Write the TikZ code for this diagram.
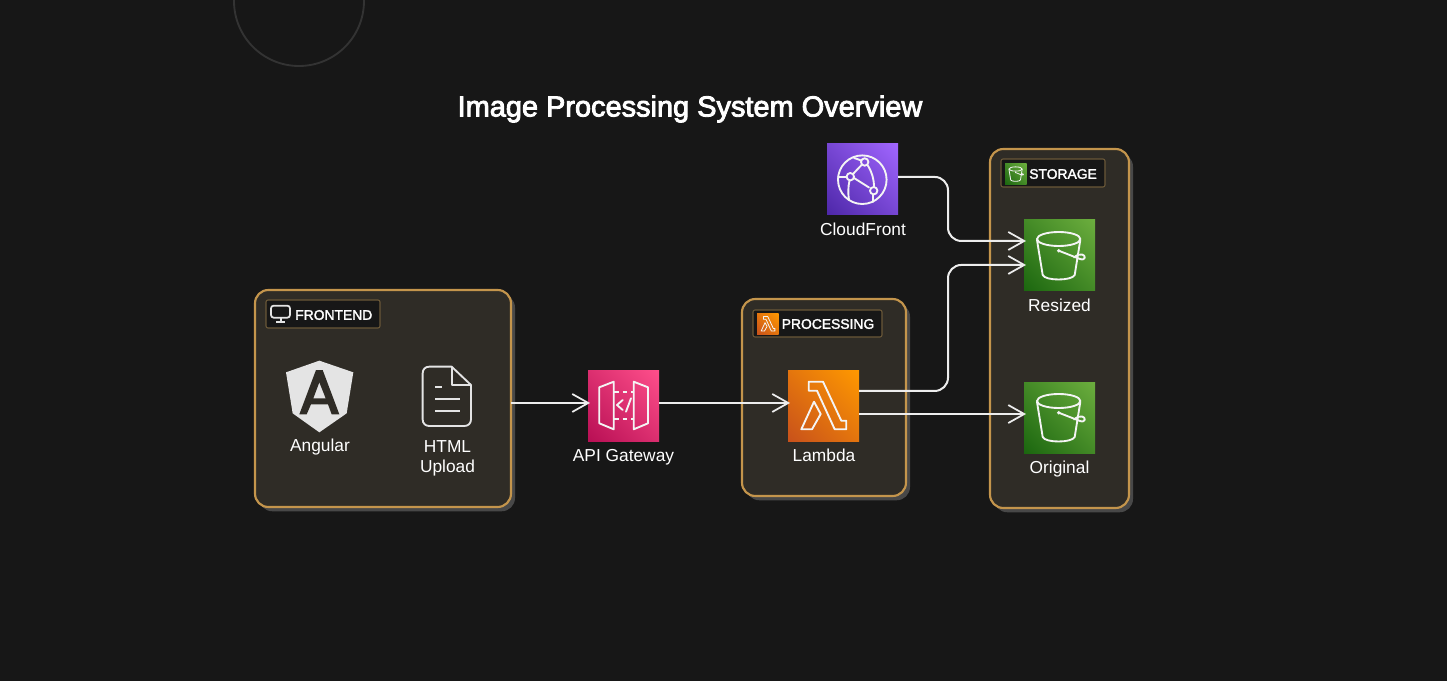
\documentclass[tikz,border=0pt]{standalone}
\usepackage{fontspec}
\usetikzlibrary{arrows.meta,shadows,shadings}
\setmainfont{Liberation Sans}
\newfontfamily\boldishfont[FakeBold=2]{Liberation Sans}
\newfontfamily\titlefont[FakeBold=3]{Liberation Sans}
\definecolor{bgc}{HTML}{171717}
\definecolor{panelc}{HTML}{2F2C26}
\definecolor{borderc}{HTML}{C4954C}
\definecolor{tagborder}{HTML}{6A5838}
\definecolor{shadowc}{HTML}{484848}
\definecolor{ringc}{HTML}{333333}
\definecolor{linec}{HTML}{EDEDED}
\definecolor{iconw}{HTML}{F4F4F4}
\definecolor{greyicon}{HTML}{E4E4E4}
\tikzset{
  x=0.75pt,y=-0.75pt,
  panel/.style={draw=borderc,line width=1.6pt,fill=panelc,rounded corners=10pt,inner sep=0pt,outer sep=0pt,
    general shadow={fill=shadowc,shadow xshift=3pt,shadow yshift=-3.2pt}},
  tag/.style={draw=tagborder,line width=0.8pt,fill=bgc,rounded corners=1.5pt,inner sep=0pt,outer sep=0pt},
  tagtext/.style={text=white,font=\boldishfont\fontsize{10.4pt}{12pt}\selectfont,inner sep=0pt,anchor=west},
  svc/.style={minimum size=53.25pt,inner sep=0pt,outer sep=0pt},
  apic/.style={lower left=apid,upper right=apib,upper left=apim,lower right=apim},
  lamc/.style={lower left=lamd,upper right=lamb,upper left=lamm,lower right=lamm},
  s3c/.style={lower left=s3d,upper right=s3b,upper left=s3m,lower right=s3m},
  cfc/.style={lower left=cfd,upper right=cfb,upper left=cfm,lower right=cfm},
  lab/.style={text=white,font=\fontsize{13pt}{15pt}\selectfont,inner sep=0pt,align=center,anchor=base},
  conn/.style={draw=linec,line width=1.5pt,shorten >=-1.5pt,-{Straight Barb[length=12pt,width=13.5pt,line width=1.3pt]}},
  ic/.style={draw=iconw,line width=#1,line join=round,line cap=round},
  ic/.default=1.4pt,
}
\definecolor{apid}{HTML}{B80F54}\definecolor{apib}{HTML}{FF4F8B}\colorlet{apim}{apid!50!apib}
\definecolor{lamd}{HTML}{C8511B}\definecolor{lamb}{HTML}{FF9900}\colorlet{lamm}{lamd!50!lamb}
\definecolor{s3d}{HTML}{1B660F}\definecolor{s3b}{HTML}{6CAE3E}\colorlet{s3m}{s3d!50!s3b}
\definecolor{cfd}{HTML}{4D27A8}\definecolor{cfb}{HTML}{A166FF}\colorlet{cfm}{cfd!50!cfb}
% icons in a 71 x 71 local box
\newcommand{\bucketglyph}[1]{%
  \draw[ic=#1] (34.7,19) ellipse [x radius=21.7,y radius=7];
  \draw[ic=#1] (13,20) -- (18.7,55) .. controls (21,61) and (48,61) .. (50.7,55) -- (56.3,20);
  \draw[ic=#1] (34.7,30.7) -- (56,39) .. controls (62,41) and (62,35) .. (58,34.5) .. controls (55,34) and (53,35) .. (50,37.5);
  \fill[iconw] (34.7,30.7) circle (1.9);
}
\newcommand{\lambdaglyph}[1]{%
  \draw[ic=#1] (20.7,11.7) -- (35,11.7) -- (53.3,50.7) -- (58.3,50.7) -- (58.3,59.3) -- (46.7,59.3) -- (29,20.7) -- (20.7,20.7) -- cycle;
  \draw[ic=#1] (26,31.7) -- (13.3,59.3) -- (24,59.3) -- (32.7,44) -- cycle;
}
\begin{document}
\begin{tikzpicture}
\useasboundingbox (0,0) rectangle (1447,681);
\fill[bgc] (0,0) rectangle (1447,681);
\begin{scope}
\clip (0,0) rectangle (1447,681);
\draw[ringc,line width=1.4pt] (299,1) circle (65);
\end{scope}

\node[text=white,font=\titlefont\fontsize{21.7pt}{26pt}\selectfont,inner sep=0pt] (title) at (690,109) {Image Processing System Overview};

% panels
\node[panel,minimum width=192pt,minimum height=162.75pt] (frontend) at (383,398.5) {};
\node[panel,minimum width=123pt,minimum height=147.75pt] (processing) at (824,397.5) {};
\node[panel,minimum width=104.25pt,minimum height=269.25pt] (storage) at (1059.5,328.5) {};

% tags
\node[tag,minimum width=85.5pt,minimum height=21pt] (tagF) at (323,314) {};
\node[tag,minimum width=96.75pt,minimum height=20.25pt] (tagP) at (817.5,323.5) {};
\node[tag,minimum width=78pt,minimum height=21pt] (tagS) at (1053,173) {};

% monitor icon
\begin{scope}[shift={(240,280)},scale=1/3]
  \draw[draw=greyicon,line width=1.3pt,rounded corners=2pt] (93,77) rectangle (150,113);
  \draw[draw=greyicon,line width=1.3pt] (122,113) -- (122,127) (108,127) -- (136,127);
\end{scope}
\node[tagtext] (tagFt) at (295,315) {FRONTEND};

% small lambda tag icon
\node[shade,lamc,minimum size=16.2pt,inner sep=0pt] (tagPi) at (767.9,323.8) {};
\begin{scope}[shift={(757.1,313)},scale=0.305]
  \lambdaglyph{0.6pt}
\end{scope}
\node[tagtext] (tagPt) at (781.5,324) {PROCESSING};

% small s3 tag icon
\node[shade,s3c,minimum size=16.2pt,inner sep=0pt] (tagSi) at (1015.8,174) {};
\begin{scope}[shift={(1005,163.2)},scale=0.305]
  \bucketglyph{0.6pt}
\end{scope}
\node[tagtext] (tagSt) at (1029,174) {STORAGE};

% Angular
\begin{scope}[shift={(280,355)},scale=1/3]
  \fill[greyicon] (118,17) -- (220,52) -- (200,175) -- (118,232) -- (38,175) -- (18,52) -- cycle;
  \fill[panelc,even odd rule] (108,45) -- (128,45) -- (178,178) -- (155,178) -- (144,148) -- (93,148) -- (80,178) -- (58,178) -- cycle
     (118,82) -- (100,130) -- (137,130) -- cycle;
\end{scope}
\node[lab] (angular) at (320,451.7) {Angular};

% document
\begin{scope}[shift={(240,280)},scale=1/3]
  \draw[draw=greyicon,line width=1.4pt,line join=round] (635,260) -- (568,260) .. controls (556,260) and (548,268) .. (548,280) -- (548,418) .. controls (548,430) and (556,438) .. (568,438) -- (673,438) .. controls (685,438) and (693,430) .. (693,418) -- (693,315) -- cycle;
  \draw[draw=greyicon,line width=1.4pt,line join=round] (635,260) -- (635,315) -- (693,315);
  \draw[draw=greyicon,line width=1.4pt] (585,322) -- (605,322) (585,357) -- (660,357) (585,393) -- (660,393);
\end{scope}
\node[lab,anchor=center] (upload) at (447.5,458) {HTML\\Upload};

% API Gateway
\node[svc,shade,apic] (api) at (623.5,405.5) {};
\begin{scope}[shift={(588,370)}]
  \draw[ic] (11.3,17.3) -- (25.7,11.7) -- (25.7,59.3) -- (11.3,53.3) -- cycle;
  \draw[ic] (45.7,11.7) -- (60,17.3) -- (60,53.3) -- (45.7,59.3) -- cycle;
  \draw[ic,line cap=butt,dash pattern=on 3.5pt off 3pt] (26,21.7) -- (45.7,21.7);
  \draw[ic,line cap=butt,dash pattern=on 3.5pt off 3pt] (26,48.7) -- (45.7,48.7);
  \draw[ic] (34.7,30) -- (29,35) -- (34.7,40);
  \draw[ic] (43,28.3) -- (38,41.7);
\end{scope}
\node[lab] (apil) at (623.5,461.7) {API Gateway};

% Lambda
\node[svc,shade,lamc] (lambda) at (823.5,405.5) {};
\begin{scope}[shift={(788,370)}]
  \lambdaglyph{1.4pt}
\end{scope}
\node[lab] (laml) at (824,461.7) {Lambda};

% CloudFront
\node[svc,shade,cfc] (cf) at (862.5,179.5) {};
\begin{scope}[shift={(827,144)}]
  \draw[ic] (35.3,35.7) circle (24.3);
  \draw[ic,fill=none] (37.7,18) circle (3.7);
  \draw[ic] (23.3,32.7) circle (3.7);
  \draw[ic] (46.7,46.7) circle (3.7);
  \draw[ic] (26,30) -- (35,20.5);
  \draw[ic] (27,34) -- (42,43.5);
  \draw[ic] (40.5,21) .. controls (45,28) and (47,35) .. (47,43);
  \draw[ic] (22.5,36.5) .. controls (21,43) and (21,50) .. (22,56);
  \draw[ic] (11,32.7) -- (19.6,32.7);
  \draw[ic] (27,14) .. controls (30,15) and (32,15.5) .. (34,16.5);
  \draw[ic] (46,50.5) -- (46,58);
\end{scope}
\node[lab] (cfl) at (863,235.7) {CloudFront};

% S3 Resized
\node[svc,shade,s3c] (resized) at (1059.5,255.5) {};
\begin{scope}[shift={(1024,220)}]
  \bucketglyph{1.4pt}
\end{scope}
\node[lab] (resl) at (1059.5,311) {Resized};

% S3 Original
\node[svc,shade,s3c] (original) at (1059.5,417.5) {};
\begin{scope}[shift={(1024,382)}]
  \bucketglyph{1.4pt}
\end{scope}
\node[lab] (orl) at (1059.5,473.3) {Original};

% connectors
\draw[conn] ([yshift=1.9pt]frontend.east |- api.west) -- ([yshift=1.9pt]api.west);
\draw[conn] ([yshift=1.9pt]api.east) -- ([yshift=1.9pt]lambda.west);
\draw[conn,rounded corners=10pt] ([yshift=1.9pt]cf.east) -| (948,210) |- ([yshift=10.9pt]resized.west);
\draw[conn,rounded corners=10pt] ([yshift=10.9pt]lambda.east) -| (948,330) |- ([yshift=-7.1pt]resized.west);
\draw[conn] ([yshift=2.6pt]lambda.east |- original.west) -- ([yshift=2.6pt]original.west);
\end{tikzpicture}
\end{document}
